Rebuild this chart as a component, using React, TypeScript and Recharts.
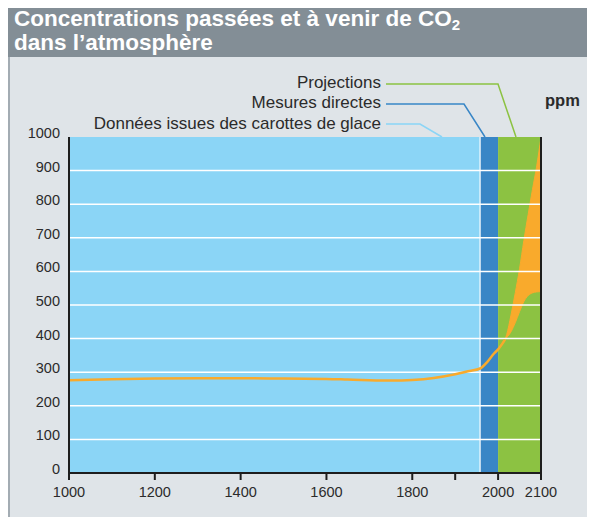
import React from 'react';
import {
  ComposedChart,
  Line,
  Area,
  XAxis,
  YAxis,
  ReferenceArea,
  ReferenceLine,
} from 'recharts';

// ---- Data ----
const histYears = [1000, 1100, 1200, 1300, 1400, 1500, 1600, 1650, 1700, 1750, 1800, 1850, 1900, 1930, 1958, 1975, 1990, 2000, 2010, 2016];
const histPpm = [276, 279, 281, 282, 282, 281, 280, 278, 276, 275, 277, 283, 294, 303, 311, 331, 355, 368, 385, 397];

const projYears = [2016, 2020, 2030, 2040, 2050, 2060, 2070, 2080, 2090, 2100];
const projLow = [397, 403, 420, 447, 480, 510, 528, 536, 539, 540];
const projHigh = [397, 412, 470, 536, 608, 692, 769, 843, 914, 1000];

const xTicks = [1000, 1200, 1400, 1600, 1800, 1900, 2000, 2100];
const xTickLabels: Record<number, string> = { 1000: '1000', 1200: '1200', 1400: '1400', 1600: '1600', 1800: '1800', 1900: '', 2000: '2000', 2100: '2100' };
const yTicks = [0, 100, 200, 300, 400, 500, 600, 700, 800, 900, 1000];

// periods
const iceStart = 1000;
const directStart = 1958;
const projStart = 2000;
const projEnd = 2100;

const legendLabels = ['Projections', 'Mesures directes', 'Données issues des carottes de glace'];

const C = {
  ice: '#8bd5f6',
  direct: '#3986c6',
  proj: '#8cc242',
  orange: '#f9aa2c',
  text: '#2b2b2b',
  axis: '#1e1e1e',
  bar: '#838e96',
  panel: '#dfe4e8',
};

// build rows
type Row = { year: number; hist?: number; band?: [number, number] };
const rowMap = new Map<number, Row>();
histYears.forEach((y, i) => {
  rowMap.set(y, { ...(rowMap.get(y) || { year: y }), hist: histPpm[i] });
});
projYears.forEach((y, i) => {
  rowMap.set(y, { ...(rowMap.get(y) || { year: y }), band: [projLow[i], projHigh[i]] });
});
const rows = Array.from(rowMap.values()).sort((a, b) => a.year - b.year);

const FONT = '"Liberation Sans", Arial, Helvetica, sans-serif';
const TICK_FS = 14.5;

const LeftTick = (p: any) => (
  <text x={p.x} y={p.y} dy={1} textAnchor="end" fontSize={TICK_FS} fill={C.text} fontFamily={FONT}>
    {p.payload.value}
  </text>
);
const RightTick = (p: any) => (
  <text x={p.x} y={p.y} dy={1} textAnchor="start" fontSize={TICK_FS} fill={C.text} fontFamily={FONT}>
    {p.payload.value}
  </text>
);
const BottomTick = (p: any) => (
  <text x={p.x} y={p.y} dy={11} textAnchor="middle" fontSize={TICK_FS} fill={C.text} fontFamily={FONT}>
    {xTickLabels[p.payload.value]}
  </text>
);

export default function App() {
  return (
    <div style={{ position: 'relative', width: 587, height: 509, background: C.panel, fontFamily: FONT }}>
      <div style={{ position: 'absolute', left: 0, top: 0, width: 2, height: 509, background: '#a3acb3' }} />
      <div style={{ position: 'absolute', left: 0, top: 0, width: 587, height: 49, background: C.bar }} />
      <div
        style={{
          position: 'absolute',
          left: 6,
          top: 0,
          color: '#fff',
          fontWeight: 'bold',
          fontSize: 22.5,
          lineHeight: '22px',
          fontFamily: FONT,
          whiteSpace: 'nowrap',
        }}
      >
        <div>
          Concentrations passées et à venir de CO
          <span style={{ fontSize: 15, position: 'relative', top: 4 }}>2</span>
        </div>
        <div>dans l’atmosphère</div>
      </div>
      <div style={{ position: 'absolute', left: -8, top: -8 }}>
        <ComposedChart width={595} height={517} data={rows} margin={{ top: 137, right: 14, bottom: 14, left: 29 }}>
          <ReferenceArea yAxisId="left" x1={iceStart} x2={directStart} y1={0} y2={1000} fill={C.ice} fillOpacity={1} stroke="none" />
          <ReferenceArea yAxisId="left" x1={directStart} x2={projStart} y1={0} y2={1000} fill={C.direct} fillOpacity={1} stroke="none" />
          <ReferenceArea yAxisId="left" x1={projStart} x2={projEnd} y1={0} y2={1000} fill={C.proj} fillOpacity={1} stroke="none" />
          {yTicks.slice(1, -1).map((t) => (
            <ReferenceLine key={t} yAxisId="left" y={t} stroke="#ffffff" strokeWidth={1.5} />
          ))}
          <ReferenceLine yAxisId="left" x={directStart} stroke="#ffffff" strokeWidth={1.2} />
          <XAxis
            dataKey="year"
            type="number"
            domain={[1000, 2100]}
            ticks={xTicks}
            interval={0}
            height={30}
            axisLine={{ stroke: C.axis, strokeWidth: 2 }}
            tickLine={{ stroke: C.axis, strokeWidth: 2 }}
            tickSize={7}
            tickMargin={6}
            tick={<BottomTick />}
          />
          <YAxis
            yAxisId="left"
            domain={[0, 1000]}
            ticks={yTicks}
            interval={0}
            width={40}
            axisLine={{ stroke: C.axis, strokeWidth: 2 }}
            tickLine={false}
            tickSize={6}
            tickMargin={3}
            tick={<LeftTick />}
          />
          <YAxis
            yAxisId="right"
            orientation="right"
            domain={[0, 1000]}
            ticks={yTicks}
            interval={0}
            width={40}
            axisLine={{ stroke: C.axis, strokeWidth: 2 }}
            tickLine={false}
            tickSize={6}
            tickMargin={1}
            tick={<RightTick />}
          />
          <Area
            yAxisId="left"
            dataKey="band"
            type="monotone"
            fill={C.orange}
            fillOpacity={1}
            stroke={C.orange}
            strokeWidth={1}
            isAnimationActive={false}
            dot={false}
            activeDot={false}
          />
          <Line
            yAxisId="left"
            dataKey="hist"
            type="monotone"
            stroke={C.orange}
            strokeWidth={2.5}
            dot={false}
            activeDot={false}
            isAnimationActive={false}
          />
        </ComposedChart>
      </div>
      <svg
        width={595}
        height={517}
        style={{ position: 'absolute', left: -8, top: -8, pointerEvents: 'none' }}
        fontFamily={FONT}
      >
        <polyline points="386,84 498,84 516,137" fill="none" stroke={C.proj} strokeWidth={1.5} />
        <polyline points="386,104 464,104 485,137" fill="none" stroke={C.direct} strokeWidth={1.5} />
        <polyline points="386,124 420,124 442,137" fill="none" stroke={C.ice} strokeWidth={1.5} />
        <text x={381} y={88} textAnchor="end" fontSize={17} fill={C.text}>{legendLabels[0]}</text>
        <text x={381} y={108} textAnchor="end" fontSize={17} fill={C.text}>{legendLabels[1]}</text>
        <text x={381} y={129} textAnchor="end" fontSize={17} fill={C.text}>{legendLabels[2]}</text>
        <text x={545} y={106} fontSize={16.5} fontWeight="bold" fill={C.text}>ppm</text>
      </svg>
    </div>
  );
}
